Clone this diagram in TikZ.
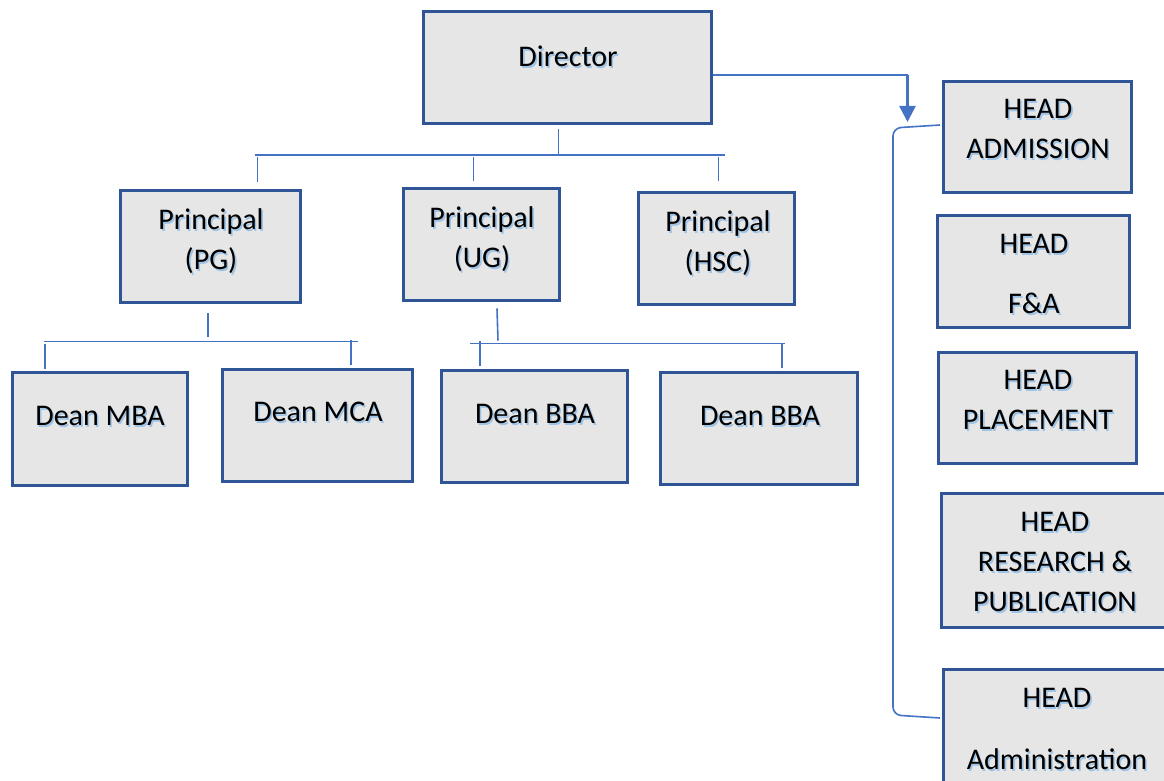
\documentclass[tikz,border=0pt]{standalone}
\usepackage{fontspec}
\setmainfont{Carlito}
\usetikzlibrary{arrows.meta}

\definecolor{boxblue}{HTML}{2F5597}
\definecolor{boxfill}{HTML}{E7E6E6}
\definecolor{linkblue}{HTML}{4472C4}
\definecolor{shadowblue}{HTML}{9DC3E6}

% text with a light blue drop shadow
\newcommand{\shd}[1]{\makebox[0pt][l]{\kern0.8pt\raisebox{-0.8pt}{\textcolor{shadowblue}{#1}}}#1}

\begin{document}
\begin{tikzpicture}[x=0.5pt, y=-0.5pt,
    unit/.style={draw=boxblue, line width=1.5pt, fill=boxfill, inner sep=0pt},
    txt/.style={font=\fontsize{15}{20}\selectfont, align=center, inner sep=0pt},
    link/.style={draw=linkblue, line width=0.8pt},
    arrow/.style={draw=linkblue, line width=1.2pt, -{Triangle[length=8pt,width=8pt]}}]

    \clip (0,0) rectangle (1164,781);

    % boxes
    \node [unit, minimum width=144pt, minimum height=56pt] (dir) at (567.5,67.5) {};
    \node [unit, minimum width=90pt, minimum height=56pt] (pg) at (210.5,246.5) {};
    \node [unit, minimum width=78pt, minimum height=56pt] (ug) at (481.5,244.5) {};
    \node [unit, minimum width=78pt, minimum height=56pt] (hsc) at (716.5,248.5) {};
    \node [unit, minimum width=87.5pt, minimum height=56.5pt] (mba) at (100,429) {};
    \node [unit, minimum width=95pt, minimum height=56pt] (mca) at (317.5,425.5) {};
    \node [unit, minimum width=93pt, minimum height=56pt] (bba1) at (534.5,426.5) {};
    \node [unit, minimum width=98.5pt, minimum height=56pt] (bba2) at (759,428.5) {};
    \node [unit, minimum width=94pt, minimum height=55.5pt] (adm) at (1037.5,137) {};
    \node [unit, minimum width=96pt, minimum height=56pt] (fa) at (1033.5,271.5) {};
    \node [unit, minimum width=99pt, minimum height=55.5pt] (plc) at (1037.5,408) {};
    \node [unit, minimum width=114.5pt, minimum height=67pt] (res) at (1056,560.5) {};
    \node [unit, minimum width=113.5pt, minimum height=64.5pt] (admn) at (1057,734) {};

    % texts
    \node [txt] (dir-t) at (568,57) {\shd{Director}};
    \node [txt] (pg-t) at (211,242) {\shd{Principal}\\\shd{(PG)}};
    \node [txt] (ug-t) at (482,240) {\shd{Principal}\\\shd{(UG)}};
    \node [txt] (hsc-t) at (718,244) {\shd{Principal}\\\shd{(HSC)}};
    \node [txt] (mba-t) at (100,417) {\shd{Dean MBA}};
    \node [txt] (mca-t) at (318,413) {\shd{Dean MCA}};
    \node [txt] (bba1-t) at (535,415) {\shd{Dean BBA}};
    \node [txt] (bba2-t) at (760,417) {\shd{Dean BBA}};
    \node [txt] (adm-t) at (1038,130) {\shd{HEAD}\\\shd{ADMISSION}};
    \node [txt] (fa-t) at (1034,275) {\shd{HEAD}\\[10pt]\shd{F\&A}};
    \node [txt] (plc-t) at (1038,401) {\shd{HEAD}\\\shd{PLACEMENT}};
    \node [txt] (res-t) at (1055,563) {\shd{HEAD}\\\shd{RESEARCH \&}\\\shd{PUBLICATION}};
    \node [txt] (admn-t) at (1057,730) {\shd{HEAD}\\[11pt]\shd{Administration}};

    % director to principals
    \draw [link] (dir.south) ++(-9,4) -- ++(0,26);
    \draw [link] (dir.south) ++(-313,30) -- ++(470,0);
    \draw [link] (pg.north) ++(47,-7) -- ++(0,-25);
    \draw [link] (ug.north) ++(-8,-6) -- ++(0,-24);
    \draw [link] (hsc.north) ++(2,-10) -- ++(0,-24);

    % principal (PG) to deans
    \draw [link] (pg.south) ++(-2.5,9.5) -- ++(0,24);
    \draw [link] (pg.south) ++(-166.5,37.5) -- ++(314,0);
    \draw [link] (mba.north) ++(-55,-2) -- ++(0,-25);
    \draw [link] (mca.north) ++(33.5,-2.5) -- ++(0,-25);

    % principal (UG) to deans
    \draw [link] (ug.south) ++(15.5,6.5) -- ++(1,32);
    \draw [link] (ug.south) ++(-11.5,41.5) -- ++(315,0);
    \draw [link] (bba1.north) ++(-54.5,-2.5) -- ++(0,-25);
    \draw [link] (bba2.north) ++(23,-2.5) -- ++(0,-25);

    % director to heads
    \draw [link] (dir.east) ++(0,7.5) -- ++(194.5,0);
    \draw [arrow] (dir.east) ++(194.5,7.5) -- ++(0,47);
    \draw [link, rounded corners=4pt] (adm.west) ++(-2,-12) -- ++(-47,3) -- ++(0,587) -- ++(47,3);

\end{tikzpicture}
\end{document}
